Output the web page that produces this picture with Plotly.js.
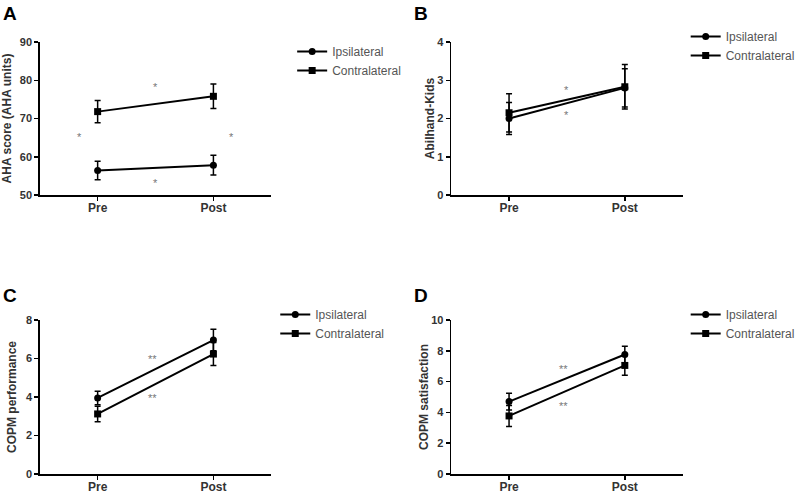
<!DOCTYPE html>
<html>
<head>
<meta charset="utf-8">
<script src="https://cdn.plot.ly/plotly-3.0.1.min.js"></script>
<style>html,body{margin:0;padding:0;background:#fff;}#chart{width:800px;height:493px;}</style>
</head>
<body>
<div id="chart"></div>
<script>
// ---- data ----
const categories = ['Pre', 'Post'];
const seriesNames = ['Ipsilateral', 'Contralateral'];

// Panel A: AHA score
const ipsiA = [56.4, 57.8];
const ipsiAErr = [2.4, 2.6];
const contraA = [71.8, 75.8];
const contraAErr = [2.9, 3.2];

// Panel B: Abilhand-Kids
const ipsiB = [2.0, 2.8];
const ipsiBErr = [0.42, 0.5];
const contraB = [2.15, 2.83];
const contraBErr = [0.5, 0.58];

// Panel C: COPM performance
const ipsiC = [3.95, 6.96];
const ipsiCErr = [0.35, 0.56];
const contraC = [3.12, 6.23];
const contraCErr = [0.4, 0.6];

// Panel D: COPM satisfaction
const ipsiD = [4.7, 7.76];
const ipsiDErr = [0.55, 0.54];
const contraD = [3.77, 7.05];
const contraDErr = [0.68, 0.64];

// significance markers (category index, value, label)
const sigAX = [0.5, -0.16, 1.16, 0.5];
const sigAY = [78.2, 65.2, 65.2, 53.1];
const sigAText = ['*', '*', '*', '*'];
const sigBX = [0.5, 0.5];
const sigBY = [2.74, 2.09];
const sigBText = ['*', '*'];
const sigCX = [0.47, 0.47];
const sigCY = [6.0, 3.93];
const sigCText = ['**', '**'];
const sigDX = [0.47, 0.47];
const sigDY = [6.85, 4.4];
const sigDText = ['**', '**'];

const yTitles = ['AHA score (AHA units)', 'Abilhand-Kids', 'COPM performance', 'COPM satisfaction'];
const panelLetters = ['A', 'B', 'C', 'D'];

// ---- build ----
const FONT = 'Liberation Sans, Arial, sans-serif';
const panels = [
  {ipsi: ipsiA, ie: ipsiAErr, con: contraA, ce: contraAErr, sx: sigAX, sy: sigAY, st: sigAText},
  {ipsi: ipsiB, ie: ipsiBErr, con: contraB, ce: contraBErr, sx: sigBX, sy: sigBY, st: sigBText},
  {ipsi: ipsiC, ie: ipsiCErr, con: contraC, ce: contraCErr, sx: sigCX, sy: sigCY, st: sigCText},
  {ipsi: ipsiD, ie: ipsiDErr, con: contraD, ce: contraDErr, sx: sigDX, sy: sigDY, st: sigDText}
];
const W = 800, H = 493;
const xDom = [[40/W, 273/W], [454/W, 687/W], [40/W, 273/W], [454/W, 687/W]];
const yDom = [[1-195/H, 1-42/H], [1-195/H, 1-42/H], [1-474/H, 1-320/H], [1-474/H, 1-320/H]];
const yRanges = [[50, 90], [0, 4], [0, 8], [0, 10]];
const yDticks = [10, 1, 2, 2];
const legendPos = [[294/W, 1-37/H], [690/W, 1-22/H], [277/W, 1-300/H], [690/W, 1-300/H]];
const letterPos = [[1, 14], [415, 14], [1, 295], [415, 295]];
const titleStandoff = [11, 0, 6, 0];

const traces = [];
const layout = {
  width: W, height: H,
  margin: {l: 0, r: 0, t: 0, b: 0},
  paper_bgcolor: '#fff', plot_bgcolor: '#fff',
  showlegend: true,
  font: {family: FONT, color: '#333'},
  annotations: []
};

panels.forEach((p, i) => {
  const n = i + 1;
  const xa = n === 1 ? 'x' : 'x' + n;
  const ya = n === 1 ? 'y' : 'y' + n;
  const lg = n === 1 ? 'legend' : 'legend' + n;
  const common = {
    x: categories, xaxis: xa, yaxis: ya, legend: lg, mode: 'lines+markers',
    line: {color: '#000', width: 2}, cliponaxis: false
  };
  traces.push(Object.assign({}, common, {
    name: seriesNames[0], y: p.ipsi,
    marker: {symbol: 'circle', size: 7, color: '#000'},
    error_y: {type: 'data', array: p.ie, visible: true, color: '#000', thickness: 1.5, width: 3}
  }));
  traces.push(Object.assign({}, common, {
    name: seriesNames[1], y: p.con,
    marker: {symbol: 'square', size: 7, color: '#000'},
    error_y: {type: 'data', array: p.ce, visible: true, color: '#000', thickness: 1.5, width: 3}
  }));

  layout['xaxis' + (n === 1 ? '' : n)] = {
    domain: xDom[i], anchor: ya, type: 'category', range: [-0.5, 1.5],
    showline: true, linecolor: '#000', linewidth: 1.5, mirror: false,
    ticks: 'outside', ticklen: 4, tickwidth: 1.5, tickcolor: '#000',
    ticklabelstandoff: -3,
    showgrid: false, zeroline: false, automargin: false,
    tickfont: {family: FONT, size: 12, color: '#333', weight: 'bold'}
  };
  layout['yaxis' + (n === 1 ? '' : n)] = {
    domain: yDom[i], anchor: xa, range: yRanges[i], dtick: yDticks[i], tick0: 0,
    showline: true, linecolor: '#000', linewidth: 1.5,
    ticks: 'outside', ticklen: 4, tickwidth: 1.5, tickcolor: '#000',
    showgrid: false, zeroline: false, automargin: false,
    tickfont: {family: FONT, size: 11, color: '#333', weight: 'bold'},
    title: {text: yTitles[i], standoff: titleStandoff[i], font: {family: FONT, size: 12, color: '#333', weight: 'bold'}}
  };
  layout[lg] = {
    x: legendPos[i][0], y: legendPos[i][1], xanchor: 'left', yanchor: 'top',
    bgcolor: 'rgba(0,0,0,0)', borderwidth: 0,
    font: {family: FONT, size: 12, color: '#555'}, tracegroupgap: 0
  };
  p.sx.forEach((sx, k) => {
    layout.annotations.push({
      x: sx, y: p.sy[k], xref: xa, yref: ya, text: p.st[k], showarrow: false,
      font: {family: FONT, size: 11, color: '#777'}, xanchor: 'center', yanchor: 'middle'
    });
  });
  layout.annotations.push({
    x: letterPos[i][0] / W, y: 1 - letterPos[i][1] / H, xref: 'paper', yref: 'paper',
    text: panelLetters[i], showarrow: false, xanchor: 'left', yanchor: 'middle',
    font: {family: FONT, size: 19, color: '#000', weight: 'bold'}
  });
});

Plotly.newPlot('chart', traces, layout, {staticPlot: true, displayModeBar: false});
</script>
</body>
</html>
